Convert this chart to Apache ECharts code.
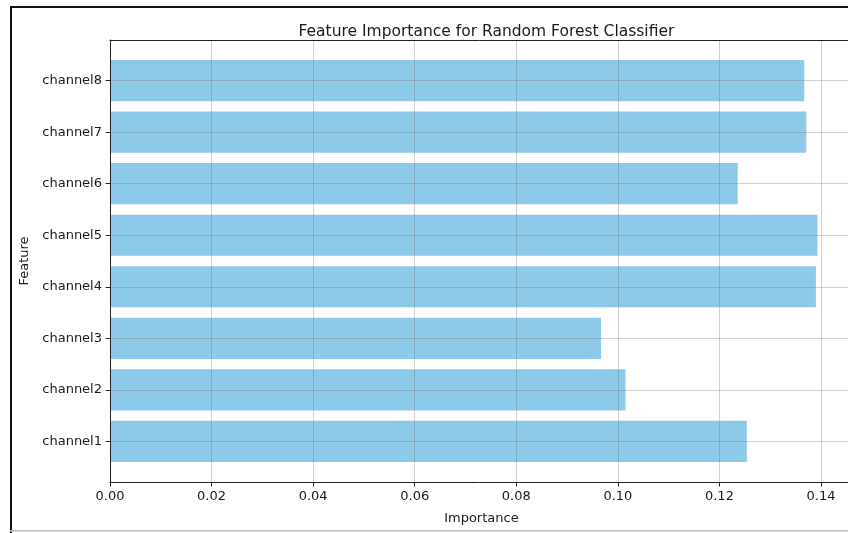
<!DOCTYPE html>
<html>
<head>
<meta charset="utf-8">
<script src="https://cdn.jsdelivr.net/npm/echarts@6/dist/echarts.min.js"></script>
<style>
html,body{margin:0;padding:0;background:#fff;}
#chart{width:848px;height:533px;}
</style>
</head>
<body>
<div id="chart"></div>
<script>
const categories = ['channel1','channel2','channel3','channel4','channel5','channel6','channel7','channel8'];
const importance = [0.1254, 0.1015, 0.0967, 0.1390, 0.1393, 0.1236, 0.1371, 0.1367];
const xTickStep = 0.02;
const yTickValues = [0,1,2,3,4,5,6,7];

const font = 'DejaVu Sans';
const W = 848, H = 533;
const plotTop = 40, plotBottom = 482, plotLeft = 110;
const xMax = Math.max(...importance) * 1.05;
const yMin = -0.79, yMax = 7.79;
const band = (plotBottom - plotTop) / (yMax - yMin);
const barGridTop = plotTop + (yMax - 7.5) * band;
const barGridBottom = plotBottom - (-0.5 - yMin) * band;
const plotRight = plotLeft + xMax * ((821 - 110) / 0.14);
const gridColor = 'rgba(120,120,120,0.35)';

const chart = echarts.init(document.getElementById('chart'));
chart.setOption({
  animation: false,
  backgroundColor: '#fff',
  title: {
    text: 'Feature Importance for Random Forest Classifier',
    left: (plotLeft + plotRight) / 2,
    textAlign: 'center',
    top: 19,
    textStyle: {fontFamily: font, fontSize: 15.5, fontWeight: 'normal', color: '#1a1a1a'}
  },
  graphic: [
    {type: 'rect', shape: {x: 10, y: 6, width: 2, height: H - 6}, style: {fill: '#111'}, silent: true},
    {type: 'rect', shape: {x: 10, y: 6, width: W - 10, height: 2}, style: {fill: '#111'}, silent: true},
    {type: 'rect', shape: {x: 10, y: 530, width: W - 10, height: 1.5}, style: {fill: '#bbb'}, silent: true}
  ],
  grid: [
    {left: plotLeft, right: W - plotRight, top: plotTop, bottom: H - plotBottom,
     outerBoundsMode: 'none', containLabel: false},
    {left: plotLeft, right: W - plotRight, top: barGridTop, bottom: H - barGridBottom,
     outerBoundsMode: 'none', containLabel: false}
  ],
  xAxis: [
    {gridIndex: 0, type: 'value', min: 0, max: xMax, interval: xTickStep, z: 5, position: 'bottom',
     name: 'Importance', nameLocation: 'middle', nameGap: 30,
     nameTextStyle: {fontFamily: font, fontSize: 13, color: '#1a1a1a'},
     axisLine: {show: true, onZero: false, lineStyle: {color: '#222', width: 1}},
     axisTick: {show: true, inside: false, length: 4.5, lineStyle: {color: '#222'}},
     axisLabel: {showMaxLabel: false, margin: 8, fontFamily: font, fontSize: 13, color: '#1a1a1a',
                 formatter: v => v.toFixed(2)},
     splitLine: {show: true, lineStyle: {color: gridColor, width: 1}}},
    {gridIndex: 1, type: 'value', min: 0, max: xMax, show: false, splitLine: {show: false}},
    {gridIndex: 0, type: 'value', min: 0, max: xMax, position: 'top', z: 5,
     axisLine: {show: true, onZero: false, lineStyle: {color: '#222', width: 1}},
     axisTick: {show: false}, axisLabel: {show: false}, splitLine: {show: false}}
  ],
  yAxis: [
    {gridIndex: 0, type: 'value', min: yMin, max: yMax, z: 5, position: 'left',
     name: 'Feature', nameLocation: 'middle', nameGap: 71, nameRotate: 90,
     nameTextStyle: {fontFamily: font, fontSize: 13, color: '#1a1a1a'},
     axisLine: {show: true, onZero: false, lineStyle: {color: '#222', width: 1}},
     axisTick: {show: true, inside: false, length: 4.5, customValues: yTickValues, lineStyle: {color: '#222'}},
     axisLabel: {customValues: yTickValues, margin: 8, fontFamily: font, fontSize: 13, color: '#1a1a1a',
                 formatter: v => categories[Math.round(v)]},
     splitLine: {show: true, lineStyle: {color: gridColor, width: 1}}},
    {gridIndex: 1, type: 'category', data: categories, show: false, boundaryGap: true}
  ],
  series: [{
    type: 'bar',
    xAxisIndex: 1,
    yAxisIndex: 1,
    data: importance,
    barWidth: '80%',
    itemStyle: {color: '#8DC9E8'},
    z: 2
  }]
});
</script>
</body>
</html>
